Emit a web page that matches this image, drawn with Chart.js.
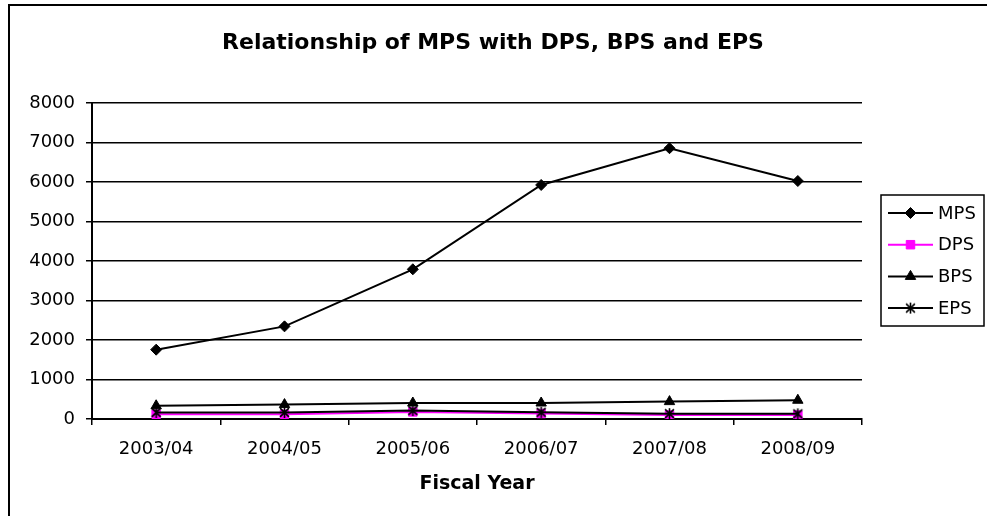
<!DOCTYPE html>
<html>
<head>
<meta charset="utf-8">
<script src="https://cdn.jsdelivr.net/npm/chart.js@4/dist/chart.umd.min.js"></script>
<style>
  html, body { margin: 0; padding: 0; background: #fff; }
  #wrap { position: relative; width: 987px; height: 516px; }
  canvas { display: block; }
</style>
</head>
<body>
<div id="wrap"><canvas id="c" width="987" height="516"></canvas></div>
<script>
// Fiscal years on the category axis
const years = ['2003/04', '2004/05', '2005/06', '2006/07', '2007/08', '2008/09'];
// Per-share figures
const mps = [1755, 2345, 3790, 5925, 6855, 6025];
const dps = [120, 120, 180, 140, 100, 100];
const bps = [335, 365, 405, 405, 440, 475];
const eps = [165, 165, 215, 170, 135, 130];
// Value axis ticks
const yTicks = [0, 1000, 2000, 3000, 4000, 5000, 6000, 7000, 8000];

const chartTitle = 'Relationship of MPS with DPS, BPS and EPS';
const xTitle = 'Fiscal Year';

// Asterisk marker: an X crossed by a vertical stroke
function makeAsterisk(size, color) {
  const c = document.createElement('canvas');
  c.width = size; c.height = size;
  const g = c.getContext('2d');
  g.strokeStyle = color;
  g.lineWidth = 1.6;
  const m = size / 2, r = size / 2 - 1;
  g.beginPath();
  g.moveTo(m - r * 0.8, m - r * 0.8); g.lineTo(m + r * 0.8, m + r * 0.8);
  g.moveTo(m + r * 0.8, m - r * 0.8); g.lineTo(m - r * 0.8, m + r * 0.8);
  g.moveTo(m, m - r); g.lineTo(m, m + r);
  g.stroke();
  return c;
}
const star = makeAsterisk(13, '#000');

Chart.defaults.font.family = "'DejaVu Sans', Arial, sans-serif";
Chart.defaults.color = '#000';

const series = [
  { label: 'MPS', data: mps, borderColor: '#000', backgroundColor: '#000', pointStyle: 'rectRot', pointRadius: 5.5, order: 3 },
  { label: 'DPS', data: dps, borderColor: '#ff00ff', backgroundColor: '#ff00ff', pointStyle: 'rect', pointRadius: 6, order: 2 },
  { label: 'BPS', data: bps, borderColor: '#000', backgroundColor: '#000', pointStyle: 'triangle', pointRadius: 6, order: 1 },
  { label: 'EPS', data: eps, borderColor: '#000', backgroundColor: '#000', pointStyle: star, pointRadius: 6, order: 0 }
];

// Frame, title, axis title and legend box
const decor = {
  id: 'decor',
  beforeDraw(chart) {
    const ctx = chart.ctx;
    ctx.save();
    ctx.fillStyle = '#fff';
    ctx.fillRect(0, 0, chart.width, chart.height);
    ctx.strokeStyle = '#000';
    ctx.lineWidth = 2;
    ctx.beginPath();
    ctx.moveTo(9, 520); ctx.lineTo(9, 5); ctx.lineTo(990, 5);
    ctx.stroke();
    ctx.restore();
  },
  afterDraw(chart) {
    const ctx = chart.ctx;
    const area = chart.chartArea;
    ctx.save();
    ctx.fillStyle = '#000';
    ctx.textAlign = 'center';
    ctx.textBaseline = 'middle';
    ctx.font = "bold 22px 'DejaVu Sans', Arial, sans-serif";
    ctx.fillText(chartTitle, 493, 43);
    ctx.font = "bold 19px 'DejaVu Sans', Arial, sans-serif";
    ctx.fillText(xTitle, (area.left + area.right) / 2, 484);

    // legend
    const lx = 881, ly = 195, lw = 103, lh = 131;
    ctx.fillStyle = '#fff';
    ctx.fillRect(lx, ly, lw, lh);
    ctx.strokeStyle = '#000';
    ctx.lineWidth = 1.5;
    ctx.strokeRect(lx, ly, lw, lh);
    ctx.font = "18px 'DejaVu Sans', Arial, sans-serif";
    ctx.textAlign = 'left';
    series.forEach((s, i) => {
      const y = 213 + i * 31.7;
      ctx.strokeStyle = s.borderColor;
      ctx.lineWidth = 2;
      ctx.beginPath();
      ctx.moveTo(888, y); ctx.lineTo(933, y);
      ctx.stroke();
      ctx.fillStyle = s.backgroundColor;
      ctx.lineWidth = 1;
      Chart.helpers.drawPoint(ctx, {
        pointStyle: s.pointStyle, radius: s.pointRadius, rotation: 0, borderWidth: 1
      }, 910.5, y);
      ctx.fillStyle = '#000';
      ctx.fillText(s.label, 938, y + 1);
    });
    ctx.restore();
  }
};

new Chart(document.getElementById('c'), {
  type: 'line',
  data: {
    labels: years,
    datasets: series.map(s => Object.assign({
      borderWidth: 2,
      pointBorderWidth: 1,
      pointBorderColor: s.borderColor,
      pointBackgroundColor: s.backgroundColor,
      tension: 0,
      fill: false
    }, s))
  },
  options: {
    responsive: false,
    animation: false,
    layout: { padding: { left: 0, top: 103, right: 125, bottom: 0 } },
    plugins: { legend: { display: false }, title: { display: false }, tooltip: { enabled: false } },
    scales: {
      x: {
        offset: true,
        afterFit(scale) { scale.height = 97; },
        grid: { offset: true, drawOnChartArea: false, drawTicks: true, tickLength: 6, color: '#000', lineWidth: 1.5 },
        border: { color: '#000', width: 2 },
        ticks: { font: { size: 18 }, padding: 14, color: '#000', maxRotation: 0 }
      },
      y: {
        min: yTicks[0],
        max: yTicks[yTicks.length - 1],
        afterFit(scale) { scale.width = 92; },
        afterBuildTicks(scale) { scale.ticks = yTicks.map(v => ({ value: v })); },
        grid: { color: '#000', lineWidth: 1.5, tickLength: 6, drawTicks: true },
        border: { color: '#000', width: 2 },
        ticks: { font: { size: 18 }, padding: 11, color: '#000', callback: v => String(v) }
      }
    }
  },
  plugins: [decor]
});
</script>
</body>
</html>
